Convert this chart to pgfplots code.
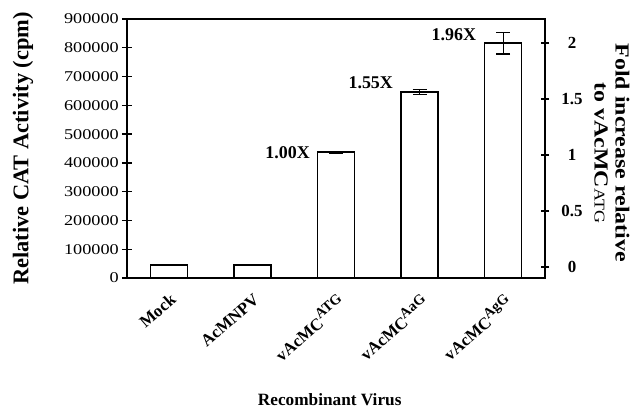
\documentclass[border=0pt]{standalone}
\usepackage{pgfplots}
\pgfplotsset{compat=1.18}
\usepackage{fontspec}
\setmainfont{Liberation Serif}
\newfontfamily\wideserif[FakeStretch=1.22]{Liberation Serif}
\newfontfamily\longserif[FakeStretch=1.2]{Liberation Serif}
\newcommand{\supr}[1]{\raisebox{0.42em}{\fontsize{14.5}{15}\selectfont #1}}
\begin{document}
\begin{tikzpicture}
\pgfplotstableread{
x y err
0 45000 0
1 45000 0
2 437000 3000
3 646000 9000
4 816000 38000
}\cattable
\begin{axis}[
  scale only axis, width=418bp, height=259bp,
  xmin=-0.5, xmax=4.5, ymin=0, ymax=900000,
  axis line style={line width=1.5pt},
  every tick/.style={line width=1.3pt, black},
  tick align=center,
  major tick length=10bp, minor tick length=10bp,
  xtick={0,1,2,3,4},
  xticklabels={Mock, AcMNPV, vAcMC\supr{ATG}, vAcMC\supr{AaG}, vAcMC\supr{AgG}},
  x tick label style={rotate=41, anchor=north east, font=\fontsize{17}{18}\selectfont\bfseries, inner sep=1pt, xshift=-5bp, yshift=-6.5bp},
  extra x ticks={0.5,1.5,2.5,3.5},
  extra x tick labels={},
  extra x tick style={major tick length=10bp},
  xtick style={draw=none},
  xtick pos=bottom,
  ytick={0,100000,...,900000},
  ytick pos=left,
  scaled y ticks=false,
  yticklabel style={font=\fontsize{15}{17}\selectfont\wideserif, /pgf/number format/fixed, /pgf/number format/1000 sep={}, inner sep=1pt, xshift=-2bp},
  /pgf/number format/assume math mode=true,
  ylabel={\textbf{Relative CAT Activity (cpm)}},
  ylabel style={font=\fontsize{22.5}{26}\selectfont, at={(axis description cs:-0.249,0.5)}, anchor=center},
  xlabel={\textbf{Recombinant Virus}},
  xlabel style={font=\fontsize{17.3}{20}\selectfont, at={(axis description cs:0.485,-0.47)}, anchor=center},
  clip=false,
]
\coordinate (bl) at (rel axis cs:0,0);
\coordinate (tr) at (rel axis cs:1,1);
\addplot[ybar, bar width=37bp, draw=black, fill=white, line width=1.5pt,
  error bars/.cd, y dir=both, y explicit,
  error bar style={line width=1.4pt},
  error mark options={rotate=90, mark size=7bp, line width=1.4pt}]
  table[x=x, y=y, y error=err] {\cattable};
\node[anchor=east, font=\fontsize{18}{20}\selectfont\bfseries, inner sep=0pt] at (axis cs:2,437000) [xshift=-26bp] {1.00X};
\node[anchor=east, font=\fontsize{18}{20}\selectfont\bfseries, inner sep=0pt] at (axis cs:3,646000) [xshift=-26.5bp, yshift=9bp] {1.55X};
\node[anchor=east, font=\fontsize{18}{20}\selectfont\bfseries, inner sep=0pt] at (axis cs:4,816000) [xshift=-27bp, yshift=8bp] {1.96X};
\end{axis}
\begin{axis}[
  scale only axis, width=418bp, height=259bp,
  xmin=-0.5, xmax=4.5, ymin=-0.098, ymax=2.214,
  axis x line=none,
  axis y line*=right,
  axis line style={line width=1.5pt},
  every tick/.style={line width=1.3pt, black},
  tick align=center, major tick length=8bp,
  ytick={0,0.5,1,1.5,2},
  yticklabels={0,0.5,1,1.5,2},
  yticklabel style={font=\fontsize{17}{19}\selectfont\bfseries, inner sep=0pt, anchor=center, xshift=23bp},
  clip=false,
]
\addplot[draw=none] coordinates {(0,0)};
\node[rotate=-90, align=center, font=\fontsize{20}{21}\selectfont\longserif\bfseries] at (rel axis cs:1.16,0.483) {Fold increase relative\\to vAcMC{\fontsize{15}{16}\selectfont\mdseries ATG}};
\end{axis}
\pgfresetboundingbox
\path ([xshift=-127bp, yshift=-139bp]bl) rectangle ([xshift=89bp, yshift=19bp]tr);
\end{tikzpicture}
\end{document}
